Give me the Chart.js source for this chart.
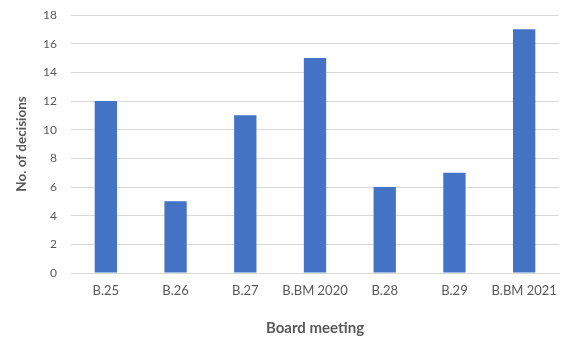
<!DOCTYPE html>
<html>
<head>
<meta charset="utf-8">
<script src="https://cdn.jsdelivr.net/npm/chart.js@4"></script>
<style>
  html, body { margin: 0; padding: 0; background: #fff; }
  #wrap { width: 576px; height: 343px; }
</style>
</head>
<body>
<div id="wrap"><canvas id="myChart"></canvas></div>
<script>
const meetings = ['B.25', 'B.26', 'B.27', 'B.BM 2020', 'B.28', 'B.29', 'B.BM 2021']
const decisions = [12, 5, 11, 15, 6, 7, 17]
const yTicks = [0, 2, 4, 6, 8, 10, 12, 14, 16, 18]

const font = "Lato, 'Open Sans', sans-serif"
const ctx = document.getElementById('myChart')

new Chart(ctx, {
    type: 'bar',
    data: {
        labels: meetings,
        datasets: [{
            label: 'No. of decisions',
            data: decisions,
            backgroundColor: '#4472c4',
            categoryPercentage: 1,
            barPercentage: 0.32
        }]
    },
    options: {
        responsive: true,
        maintainAspectRatio: false,
        animation: false,
        layout: { padding: { left: 14, right: 17, top: 15, bottom: 0 } },
        plugins: {
            legend: { display: false },
            tooltip: { enabled: false }
        },
        scales: {
            x: {
                grid: { display: false },
                border: { color: '#d9d9d9', width: 1 },
                ticks: { color: '#595959', font: { family: font, size: 13 }, padding: 2, maxRotation: 0 },
                title: {
                    display: true, text: 'Board meeting', color: '#595959',
                    font: { family: font, size: 15, weight: 'bold' }, padding: { top: 3, bottom: 6 }
                },
                afterFit: s => { s.height = 70 }
            },
            y: {
                min: 0, max: 18,
                afterBuildTicks: s => { s.ticks = yTicks.map(v => ({ value: v })) },
                // invisible tick marks keep the labels 14px off the plot
                grid: { color: '#d9d9d9', drawTicks: true, tickLength: 14, tickColor: 'rgba(0,0,0,0)' },
                border: { display: false },
                ticks: { color: '#595959', font: { family: font, size: 12 }, padding: 0 },
                title: {
                    display: true, text: 'No. of decisions', color: '#595959',
                    font: { family: font, size: 13.5, weight: 'bold' }, padding: { top: 0, bottom: 0 }
                },
                afterFit: s => { s.width = 57 }
            }
        }
    }
})
</script>
</body>
</html>
